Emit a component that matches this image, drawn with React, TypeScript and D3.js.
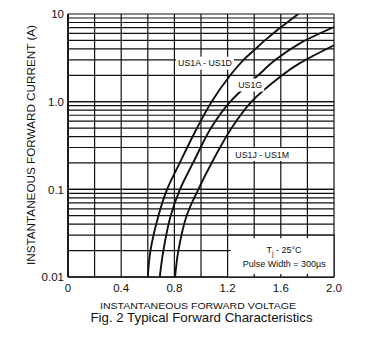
import React from "react";
import * as d3 from "d3";

const xTicks = [0, 0.4, 0.8, 1.2, 1.6, 2.0];
const xTickLabels = ["0", "0.4", "0.8", "1.2", "1.6", "2.0"];
const yTicks = [10, 1, 0.1, 0.01];
const yTickLabels = ["10", "1.0", "0.1", "0.01"];

const seriesNames = ["US1A - US1D", "US1G", "US1J - US1M"];
const usA: [number, number][] = [
  [0.6, 0.01], [0.62, 0.02], [0.68, 0.05], [0.745, 0.1], [0.84, 0.2], [0.97, 0.5],
  [1.08, 1], [1.22, 2], [1.32, 3], [1.41, 4], [1.48, 5], [1.57, 6.5], [1.73, 10], [1.76, 11],
];
const usG: [number, number][] = [
  [0.69, 0.01], [0.717, 0.02], [0.772, 0.05], [0.842, 0.1], [0.94, 0.2], [1.075, 0.5],
  [1.22, 1], [1.43, 2], [1.56, 3], [1.74, 4.6], [2.0, 7.1],
];
const usJ: [number, number][] = [
  [0.805, 0.01], [0.83, 0.02], [0.892, 0.05], [0.98, 0.1], [1.08, 0.2], [1.23, 0.5],
  [1.38, 1], [1.61, 2], [1.74, 2.73], [2.0, 4.4],
];
const labelPos: [number, number][] = [[1.03, 2.75], [1.37, 1.55], [1.46, 0.25]];

const FONT = "'Liberation Sans', Arial, sans-serif";
const INK = "#111";

export default function App() {
  const W = 371, H = 344;
  const x = d3.scaleLinear().domain([0, 2]).range([68, 334]);
  const y = d3.scaleLog().domain([0.01, 10]).range([277, 14]);

  const vGrid = d3.range(0, 2.0001, 0.2);
  const hGrid: number[] = [];
  [0.01, 0.1, 1].forEach((d) => {
    for (let k = 1; k <= 10; k++) hGrid.push(d * k);
  });

  const line = d3
    .line<[number, number]>()
    .x((d) => x(d[0]))
    .y((d) => y(d[1]))
    .curve(d3.curveCatmullRom.alpha(0.5));

  const boxX0 = x(1.2), boxX1 = x(2.0), boxY0 = y(0.03), boxY1 = y(0.01);
  const series = [usA, usG, usJ];

  return (
    <svg width={W} height={H} style={{ position: "absolute", left: 0, top: 0 }}>
      <rect width={W} height={H} fill="#fff" />
      <defs>
        <clipPath id="plot">
          <rect x={68} y={14} width={266} height={263} />
        </clipPath>
      </defs>
      {hGrid.map((v, i) => (
        <line key={"h" + i} x1={68} x2={334} y1={y(v)} y2={y(v)} stroke={INK} strokeWidth={1.2} />
      ))}
      {vGrid.map((v, i) => (
        <line key={"v" + i} x1={x(v)} x2={x(v)} y1={14} y2={277} stroke={INK} strokeWidth={1.2} />
      ))}
      <line x1={68} x2={68} y1={14} y2={277} stroke={INK} strokeWidth={1.8} />
      <line x1={68} x2={334} y1={277} y2={277} stroke={INK} strokeWidth={1.6} />

      <g clipPath="url(#plot)">
        {series.map((s, i) => (
          <path key={"s" + i} d={line(s) || ""} fill="none" stroke={INK} strokeWidth={1.9} />
        ))}
      </g>

      {seriesNames.map((n, i) => {
        const cx = x(labelPos[i][0]);
        const cy = y(labelPos[i][1]);
        const w = n.length > 5 ? 58 : 28;
        return (
          <g key={"l" + i}>
            <rect x={cx - w / 2} y={cy - 6.5} width={w} height={13} fill="#fff" />
            <text x={cx} y={cy + 3.2} textAnchor="middle" fontFamily={FONT} fontSize={8.8} fill={INK}>
              {n}
            </text>
          </g>
        );
      })}

      <rect x={boxX0} y={boxY0} width={boxX1 - boxX0} height={boxY1 - boxY0} fill="#fff" stroke={INK} strokeWidth={1.2} />
      {[1.4, 1.6, 1.8].map((v, i) => (
        <g key={"bt" + i}>
          <line x1={x(v)} x2={x(v)} y1={boxY0} y2={boxY0 + 3} stroke={INK} strokeWidth={1.2} />
          <line x1={x(v)} x2={x(v)} y1={boxY1} y2={boxY1 - 3} stroke={INK} strokeWidth={1.2} />
        </g>
      ))}
      <line x1={boxX0} x2={boxX0 + 3} y1={y(0.02)} y2={y(0.02)} stroke={INK} strokeWidth={1.2} />
      <text x={284} y={253} textAnchor="middle" fontFamily={FONT} fontSize={9} fill={INK}>
        T<tspan fontSize={6.5} dy={2.5}>j</tspan><tspan dy={-2.5}> - 25°C</tspan>
      </text>
      <text x={284.3} y={266.5} textAnchor="middle" fontFamily={FONT} fontSize={9} fill={INK}>
        Pulse Width = 300µs
      </text>

      {yTicks.map((v, i) => (
        <text key={"yt" + i} x={64} y={y(v) + 4.2} textAnchor="end" fontFamily={FONT} fontSize={11.5} fill={INK}>
          {yTickLabels[i]}
        </text>
      ))}
      {xTicks.map((v, i) => (
        <text key={"xt" + i} x={x(v)} y={291.5} textAnchor="middle" fontFamily={FONT} fontSize={11.5} fill={INK}>
          {xTickLabels[i]}
        </text>
      ))}

      <text
        transform="translate(35,145) rotate(-90)"
        textAnchor="middle"
        fontFamily={FONT}
        fontSize={10.7}
        fill={INK}
        textLength={240}
        lengthAdjust="spacingAndGlyphs"
      >
        INSTANTANEOUS FORWARD CURRENT (A)
      </text>
      <text x={198} y={308.5} textAnchor="middle" fontFamily={FONT} fontSize={9.5} fill={INK} textLength={196} lengthAdjust="spacingAndGlyphs">
        INSTANTANEOUS FORWARD VOLTAGE
      </text>
      <text x={201.5} y={321.5} textAnchor="middle" fontFamily={FONT} fontSize={13.3} fill={INK}>
        Fig. 2  Typical Forward Characteristics
      </text>
    </svg>
  );
}
